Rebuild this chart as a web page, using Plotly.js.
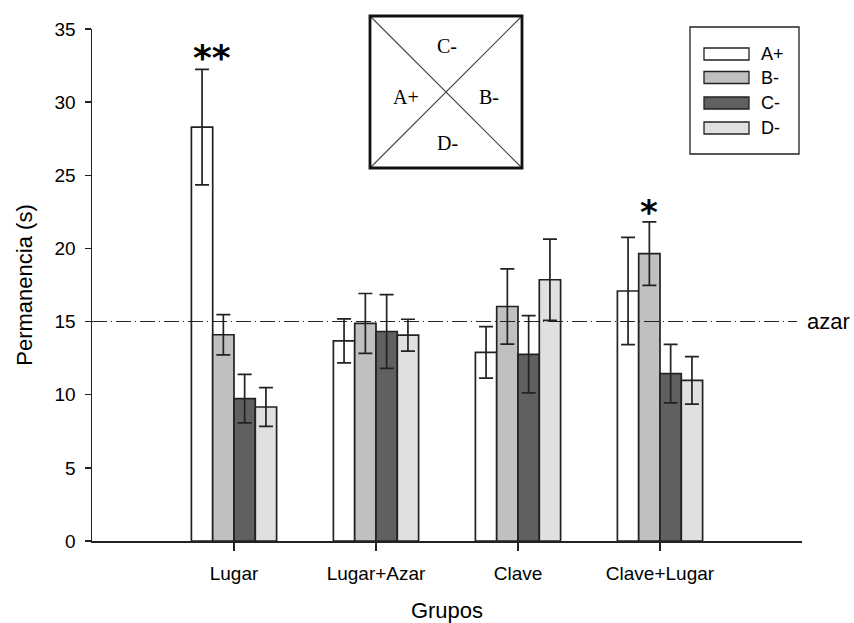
<!DOCTYPE html>
<html>
<head>
<meta charset="utf-8">
<script src="https://cdn.plot.ly/plotly-3.0.1.min.js"></script>
<style>html,body{margin:0;padding:0;background:#fff;}#chart{width:854px;height:623px;}</style>
</head>
<body>
<div id="chart"></div>
<script>
const groups = ["Lugar", "Lugar+Azar", "Clave", "Clave+Lugar"];
const seriesNames = ["A+", "B-", "C-", "D-"];
const valA = [28.29, 13.68, 12.90, 17.09];
const valB = [14.10, 14.87, 16.03, 19.64];
const valC = [9.73, 14.32, 12.76, 11.44];
const valD = [9.16, 14.07, 17.86, 10.98];
const errA = [3.95, 1.50, 1.76, 3.66];
const errB = [1.37, 2.05, 2.57, 2.17];
const errC = [1.66, 2.52, 2.64, 2.00];
const errD = [1.33, 1.09, 2.78, 1.62];
const chanceLevel = 15;
const chanceLabel = "azar";
const colors = ["#ffffff", "#c0c0c0", "#606060", "#e0e0e0"];

const values = [valA, valB, valC, valD];
const errors = [errA, errB, errC, errD];

const traces = seriesNames.map((name, i) => ({
  type: "bar",
  name: name,
  x: groups,
  y: values[i],
  marker: {color: colors[i], line: {color: "#222", width: 1.7}},
  error_y: {type: "data", array: errors[i], visible: true, color: "#222", thickness: 1.7, width: 7},
  showlegend: false,
  hoverinfo: "x+y"
}));

// plot-area pixel helpers (layout only)
const L = 92, R = 802, T = 29, B = 541;
const px = v => (v - L) / (R - L);
const py = v => (B - v) / (B - T);

const shapes = [];
const annotations = [];
const SANS = "Liberation Sans, Arial";

// chance line
shapes.push({type: "line", xref: "paper", yref: "y", x0: 0, x1: px(797), y0: chanceLevel, y1: chanceLevel,
  line: {color: "#222", width: 1.1, dash: "15px,4px,1px,4px"}});
annotations.push({xref: "paper", yref: "y", x: px(805), y: chanceLevel, text: chanceLabel, showarrow: false,
  xanchor: "left", yanchor: "middle", font: {family: SANS, size: 22, color: "#000"}});

// inset diagram
const bx0 = 370, bx1 = 522, by0 = 16, by1 = 168;
shapes.push({type: "line", xref: "paper", yref: "paper", x0: px(bx0), y0: py(by0), x1: px(bx1), y1: py(by1), line: {color: "#444", width: 1.1}});
shapes.push({type: "line", xref: "paper", yref: "paper", x0: px(bx0), y0: py(by1), x1: px(bx1), y1: py(by0), line: {color: "#444", width: 1.1}});
shapes.push({type: "rect", xref: "paper", yref: "paper", x0: px(bx0), y0: py(by0), x1: px(bx1), y1: py(by1), line: {color: "#111", width: 2.8}});
const insetLabels = [["C-", 447, 46], ["A+", 406, 97], ["B-", 489, 97], ["D-", 447, 143]];
insetLabels.forEach(([t, x, y]) => annotations.push({xref: "paper", yref: "paper", x: px(x), y: py(y), text: t, showarrow: false,
  xanchor: "center", yanchor: "middle", font: {family: "Liberation Serif, Times New Roman", size: 20, color: "#000"}}));

// legend
shapes.push({type: "rect", xref: "paper", yref: "paper", x0: px(690), y0: py(27), x1: px(799), y1: py(154), line: {color: "#222", width: 1.3}, fillcolor: "#fff"});
const legY = [54, 77.5, 103, 128];
seriesNames.forEach((n, i) => {
  shapes.push({type: "rect", xref: "paper", yref: "paper", x0: px(704), x1: px(749), y0: py(legY[i] - 6), y1: py(legY[i] + 6),
    fillcolor: colors[i], line: {color: "#222", width: 1.3}});
  annotations.push({xref: "paper", yref: "paper", x: px(759), y: py(legY[i]), text: n, showarrow: false,
    xanchor: "left", yanchor: "middle", font: {family: SANS, size: 18, color: "#000"}});
});

// significance marks
annotations.push({xref: "paper", yref: "paper", x: px(212), y: py(57), text: "**", showarrow: false,
  xanchor: "center", yanchor: "middle", font: {family: "DejaVu Sans", size: 36, color: "#000", weight: "bold"}});
annotations.push({xref: "paper", yref: "paper", x: px(649), y: py(212), text: "*", showarrow: false,
  xanchor: "center", yanchor: "middle", font: {family: "DejaVu Sans", size: 34, color: "#000", weight: "bold"}});

const layout = {
  width: 854, height: 623,
  margin: {l: L, r: 854 - R, t: T, b: 623 - B, pad: 0},
  paper_bgcolor: "#fff", plot_bgcolor: "#fff",
  barmode: "group", bargap: 0.4, bargroupgap: 0,
  font: {family: SANS, size: 19, color: "#000"},
  xaxis: {
    type: "category", range: [-1, 4], showgrid: false, zeroline: false,
    showline: true, linecolor: "#222", linewidth: 1.5,
    ticks: "outside", ticklen: 8, tickwidth: 1.5, tickcolor: "#222",
    ticklabelstandoff: 7,
    tickfont: {family: SANS, size: 19, color: "#000"},
    title: {text: "Grupos", font: {family: SANS, size: 22, color: "#000"}, standoff: 20}
  },
  yaxis: {
    range: [0, 35], dtick: 5, showgrid: false, zeroline: false,
    showline: true, linecolor: "#222", linewidth: 1.5,
    ticks: "outside", ticklen: 6, tickwidth: 1.5, tickcolor: "#222",
    ticklabelstandoff: 5,
    tickfont: {family: SANS, size: 19, color: "#000"},
    title: {text: "Permanencia (s)", font: {family: SANS, size: 22, color: "#000"}, standoff: 16}
  },
  shapes: shapes,
  annotations: annotations
};

Plotly.newPlot("chart", traces, layout, {staticPlot: true, displayModeBar: false});
</script>
</body>
</html>
